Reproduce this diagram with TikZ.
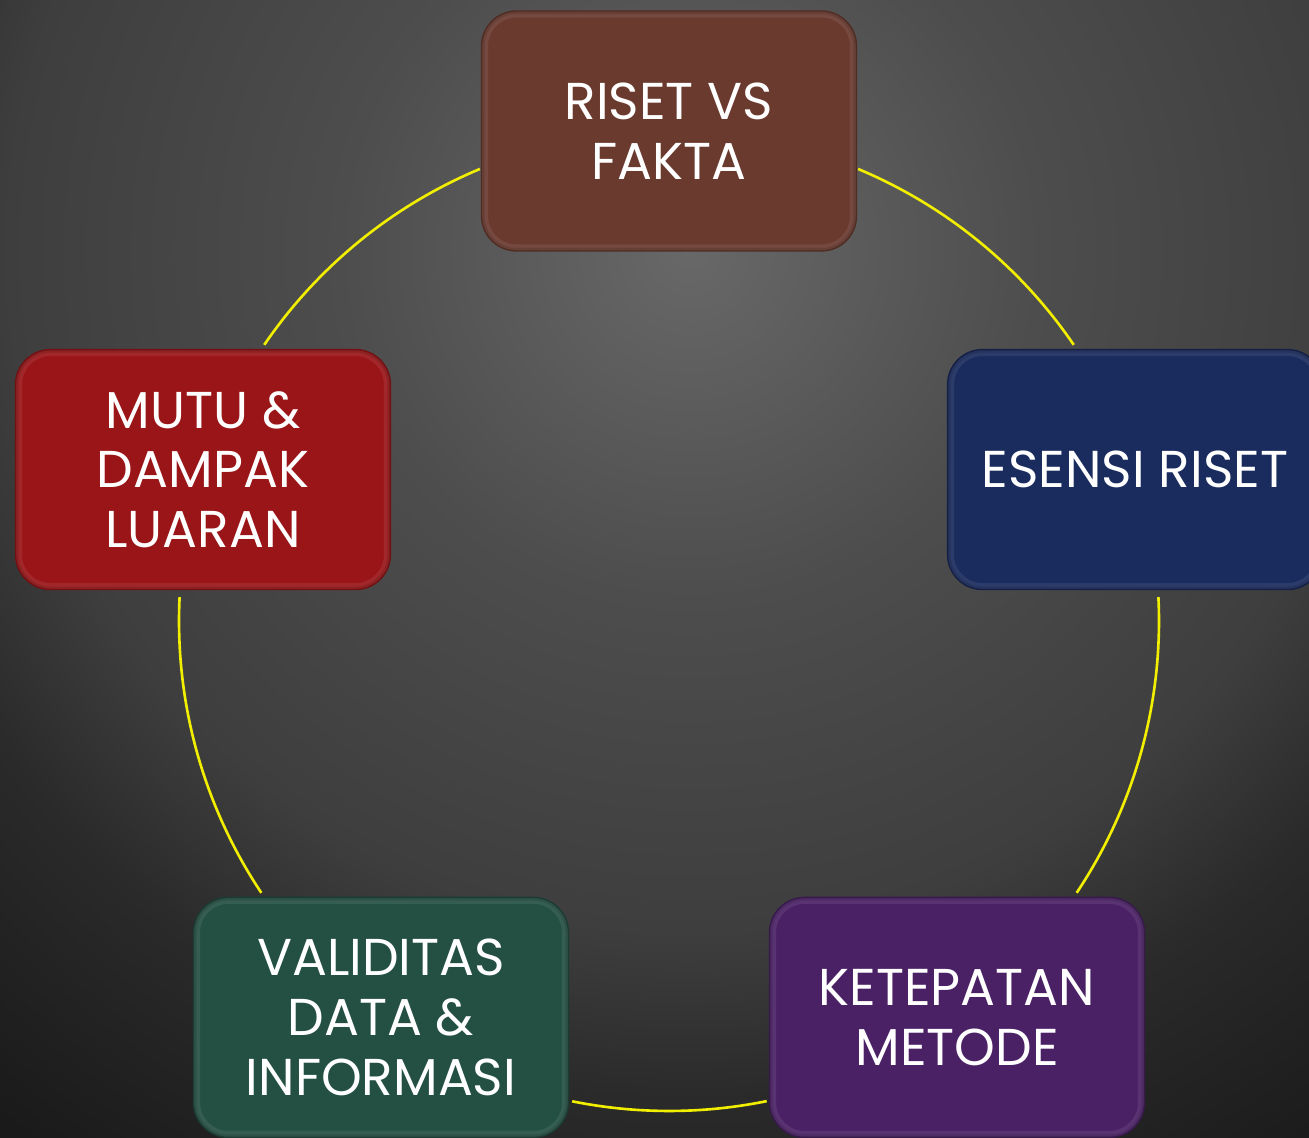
\documentclass[tikz,border=0pt]{standalone}
\usepackage{fontspec}
\setmainfont{Poppins}
\usetikzlibrary{calc}
\definecolor{bgA}{HTML}{686868}
\definecolor{bgB}{HTML}{4D4D4D}
\definecolor{bgC}{HTML}{3E3E3E}
\definecolor{bgD}{HTML}{2A2A2A}
\definecolor{bgE}{HTML}{1A1A1A}
\definecolor{ringc}{HTML}{F2EE00}
\definecolor{cbrown}{HTML}{6A3A2F}
\definecolor{cnavy}{HTML}{1A2B5E}
\definecolor{cred}{HTML}{9A1518}
\definecolor{cgreen}{HTML}{245044}
\definecolor{cpurple}{HTML}{4B2166}
% the central 50bp square maps onto the path's bounding box: 25bp = radius of the shaded circle
\pgfdeclareradialshading{bgshade}{\pgfpoint{0bp}{0bp}}{color(0bp)=(bgA); color(7.3bp)=(bgB); color(14.2bp)=(bgC); color(17.7bp)=(bgD); color(23.1bp)=(bgE); color(50bp)=(bgE)}
\tikzset{
  boxnode/.style={rounded corners=0.7cm, minimum width=7.5cm, minimum height=4.8cm,
    inner sep=0pt, align=center, text=white, fill=#1, draw=#1!75!black, line width=0.8pt,
    font=\fontsize{29.5}{34}\selectfont,
    path picture={
      \draw[rounded corners=0.7cm, line width=0.26cm, white, opacity=0.08]
        (path picture bounding box.south west) rectangle (path picture bounding box.north east);
      \draw[rounded corners=0.7cm, line width=0.12cm, black, opacity=0.12]
        (path picture bounding box.south west) rectangle (path picture bounding box.north east);
    }},
  ringline/.style={draw=ringc, line width=1.5pt}
}
\begin{document}
\begin{tikzpicture}[x=0.02cm,y=0.02cm]
\useasboundingbox (0,0) rectangle (1309,1138);
\begin{scope}
  \clip (0,0) rectangle (1309,1138);
  \shade[shading=bgshade] (690,888) circle (1200);
\end{scope}
\coordinate (C) at (669,517);
% ring arcs between boxes
\coordinate (r1) at ($(C)+(112.7:490)$);
\coordinate (r2) at ($(C)+(177.2:490)$);
\coordinate (r3) at ($(C)+(258.6:490)$);
\coordinate (r4) at ($(C)+(326.3:490)$);
\coordinate (r5) at ($(C)+(34.3:490)$);
\draw[ringline] (r1) arc[start angle=112.7, end angle=145.7, radius=490];
\draw[ringline] (r2) arc[start angle=177.2, end angle=213.7, radius=490];
\draw[ringline] (r3) arc[start angle=258.6, end angle=281.5, radius=490];
\draw[ringline] (r4) arc[start angle=326.3, end angle=362.8, radius=490];
\draw[ringline] (r5) arc[start angle=34.3, end angle=67.3, radius=490];
% boxes
\node[boxnode=cbrown] (top) at ($(C)+(90:490)$) {RISET VS\\FAKTA};
\node[boxnode=cnavy] (right) at ($(C)+(18:490)$) {ESENSI RISET};
\node[boxnode=cpurple] (bright) at ($(C)+(-54:490)$) {KETEPATAN\\METODE};
\node[boxnode=cgreen] (bleft) at ($(C)+(-126:490)$) {VALIDITAS\\DATA \&\\INFORMASI};
\node[boxnode=cred] (left) at ($(C)+(162:490)$) {MUTU \&\\DAMPAK\\LUARAN};
\end{tikzpicture}
\end{document}
